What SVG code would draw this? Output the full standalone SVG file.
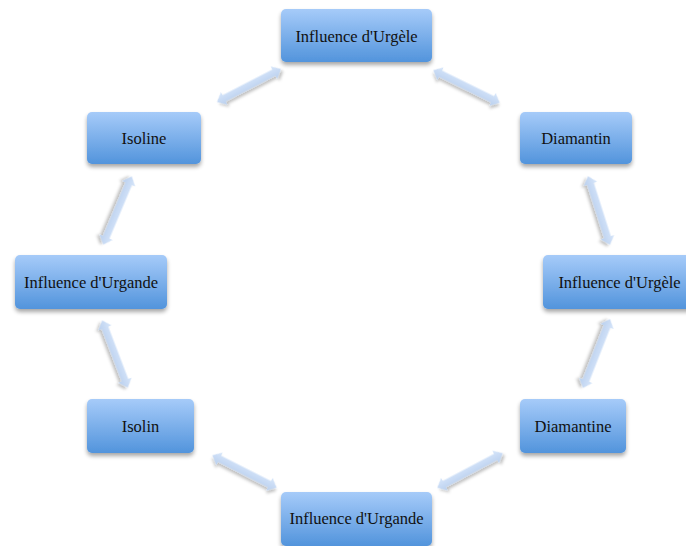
<svg xmlns="http://www.w3.org/2000/svg" width="686" height="546" viewBox="0 0 686 546">
<defs>
<linearGradient id="boxg" x1="0" y1="0" x2="0" y2="1">
<stop offset="0" stop-color="#a6cbf9"/>
<stop offset="1" stop-color="#5294dc"/>
</linearGradient>
<linearGradient id="arrg" x1="0" y1="0" x2="0" y2="1">
<stop offset="0" stop-color="#d7e6fa"/>
<stop offset="1" stop-color="#b9cfee"/>
</linearGradient>
<filter id="sh" x="-20%" y="-20%" width="140%" height="160%">
<feGaussianBlur in="SourceAlpha" stdDeviation="2"/>
<feOffset dx="0" dy="3" result="b"/>
<feComponentTransfer><feFuncA type="linear" slope="0.35"/></feComponentTransfer>
<feMerge><feMergeNode/><feMergeNode in="SourceGraphic"/></feMerge>
</filter>
<filter id="ash" x="-30%" y="-60%" width="160%" height="220%">
<feGaussianBlur in="SourceAlpha" stdDeviation="1.5"/>
<feOffset dx="1" dy="3" result="b"/>
<feComponentTransfer><feFuncA type="linear" slope="0.25"/></feComponentTransfer>
<feMerge><feMergeNode/><feMergeNode in="SourceGraphic"/></feMerge>
</filter>
</defs>
<style>
.box{fill:url(#boxg);filter:url(#sh)}
.lbl{font-family:"Liberation Serif","DejaVu Serif",serif;font-size:16.5px;fill:#111;text-anchor:middle}
.arr{fill:url(#arrg);filter:url(#ash)}
</style>
<rect width="686" height="546" fill="#ffffff"/>
<g id="connectors">
<path class="arr" transform="translate(249,85.5) rotate(-27.3)" d="M-36,0 L-28,-7 L-28,-3.6 L28,-3.6 L28,-7 L36,0 L28,7 L28,3.6 L-28,3.6 L-28,7 Z"/>
<path class="arr" transform="translate(466.5,86.5) rotate(26.2)" d="M-37,0 L-29,-7 L-29,-3.6 L29,-3.6 L29,-7 L37,0 L29,7 L29,3.6 L-29,3.6 L-29,7 Z"/>
<path class="arr" transform="translate(117.5,210.5) rotate(112.8)" d="M-37,0 L-29,-7 L-29,-3.6 L29,-3.6 L29,-7 L37,0 L29,7 L29,3.6 L-29,3.6 L-29,7 Z"/>
<path class="arr" transform="translate(599,210.5) rotate(72.3)" d="M-36,0 L-28,-7 L-28,-3.6 L28,-3.6 L28,-7 L36,0 L28,7 L28,3.6 L-28,3.6 L-28,7 Z"/>
<path class="arr" transform="translate(115,354) rotate(69.1)" d="M-36,0 L-28,-7 L-28,-3.6 L28,-3.6 L28,-7 L36,0 L28,7 L28,3.6 L-28,3.6 L-28,7 Z"/>
<path class="arr" transform="translate(596.5,353.5) rotate(111.4)" d="M-37,0 L-29,-7 L-29,-3.6 L29,-3.6 L29,-7 L37,0 L29,7 L29,3.6 L-29,3.6 L-29,7 Z"/>
<path class="arr" transform="translate(244.5,471.5) rotate(26.9)" d="M-36,0 L-28,-7 L-28,-3.6 L28,-3.6 L28,-7 L36,0 L28,7 L28,3.6 L-28,3.6 L-28,7 Z"/>
<path class="arr" transform="translate(470,470.5) rotate(-27.9)" d="M-37,0 L-29,-7 L-29,-3.6 L29,-3.6 L29,-7 L37,0 L29,7 L29,3.6 L-29,3.6 L-29,7 Z"/>
</g>
<g id="n-top"><rect class="box" x="281" y="9" width="151" height="53" rx="5"/><text class="lbl" x="356.5" y="42">Influence d'Urgèle</text></g>
<g id="n-isoline"><rect class="box" x="87" y="112" width="114" height="52" rx="5"/><text class="lbl" x="144" y="144">Isoline</text></g>
<g id="n-diamantin"><rect class="box" x="520" y="112" width="112" height="52" rx="5"/><text class="lbl" x="576" y="144">Diamantin</text></g>
<g id="n-urgande-l"><rect class="box" x="15" y="255" width="152" height="54" rx="5"/><text class="lbl" x="91" y="288">Influence d'Urgande</text></g>
<g id="n-urgele-r"><rect class="box" x="543" y="255" width="153" height="54" rx="5"/><text class="lbl" x="619.5" y="288">Influence d'Urgèle</text></g>
<g id="n-isolin"><rect class="box" x="87" y="399" width="107" height="54" rx="5"/><text class="lbl" x="140.5" y="432">Isolin</text></g>
<g id="n-diamantine"><rect class="box" x="520" y="399" width="106" height="54" rx="5"/><text class="lbl" x="573" y="432">Diamantine</text></g>
<g id="n-bottom"><rect class="box" x="281" y="492" width="151" height="54" rx="5"/><text class="lbl" x="356.5" y="524">Influence d'Urgande</text></g>
</svg>
